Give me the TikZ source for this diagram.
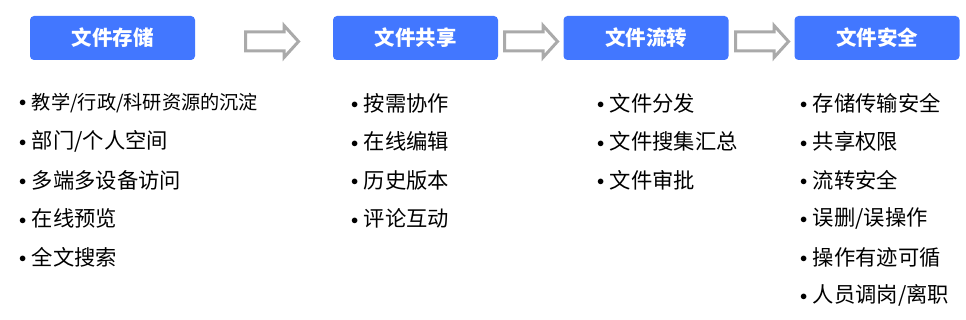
\documentclass[tikz,border=0pt]{standalone}
\usepackage{fontspec}
\setmainfont{Noto Sans CJK SC}
\usetikzlibrary{positioning}
\definecolor{headblue}{RGB}{66,119,255}
\definecolor{arrowgray}{RGB}{170,170,170}
\newcommand{\dotmark}{\raisebox{2.5pt}{\fontsize{15}{15}\selectfont$\bullet$}\hspace{5.5pt}}

\begin{document}
\begin{tikzpicture}[x=1pt, y=-1pt,
    stage/.style={fill=headblue, rounded corners=4pt, minimum width=165pt, minimum height=44pt,
      inner sep=0pt, text=white, font=\fontsize{20.5}{20.5}\selectfont\bfseries},
    point/.style={anchor=west, inner sep=0pt, font=\fontsize{21.3}{21.3}\selectfont},
    flow/.style={draw=arrowgray, line width=3pt, fill=white, line join=miter}]
    \useasboundingbox (0,0) rectangle (966,320);

    % ===== Stage headers =====
    \node[stage] (storage) at (112.5, 38) {文件存储};
    \node[stage] (sharing) at (415.5, 38) {文件共享};
    \node[stage] (transfer) at (646, 38) {文件流转};
    \node[stage] (security) at (877, 38) {文件安全};

    % ===== Block arrows between stages =====
    \foreach \x in {245.5, 504.5, 735.5}
        \draw[flow] (\x, 32) -- ++(38.5, 0) -- ++(0, -6.5) -- ++(14.5, 16)
            -- ++(-14.5, 16) -- ++(0, -6.5) -- ++(-38.5, 0) -- cycle;

    % ===== Storage items =====
    \node[point, font=\fontsize{19.2}{19.2}\selectfont] (storage-1) at (19, 103) {\dotmark 教学/行政/科研资源的沉淀};
    \foreach \t [count=\i from 2] in {部门/个人空间, 多端多设备访问, 在线预览, 全文搜索}
        \node[point] (storage-\i) at (19, 64.5+38.5*\i) {\dotmark\t};

    % ===== Sharing items =====
    \foreach \t [count=\i] in {按需协作, 在线编辑, 历史版本, 评论互动}
        \node[point] (sharing-\i) at (351, 64.5+38.5*\i) {\dotmark\t};

    % ===== Transfer items =====
    \foreach \t [count=\i] in {文件分发, 文件搜集汇总, 文件审批}
        \node[point] (transfer-\i) at (597, 64.5+38.5*\i) {\dotmark\t};

    % ===== Security items =====
    \foreach \t [count=\i] in {存储传输安全, 共享权限, 流转安全, 误删/误操作, 操作有迹可循, 人员调岗/离职}
        \node[point] (security-\i) at (800, 64.5+38.5*\i) {\dotmark\t};

\end{tikzpicture}
\end{document}
